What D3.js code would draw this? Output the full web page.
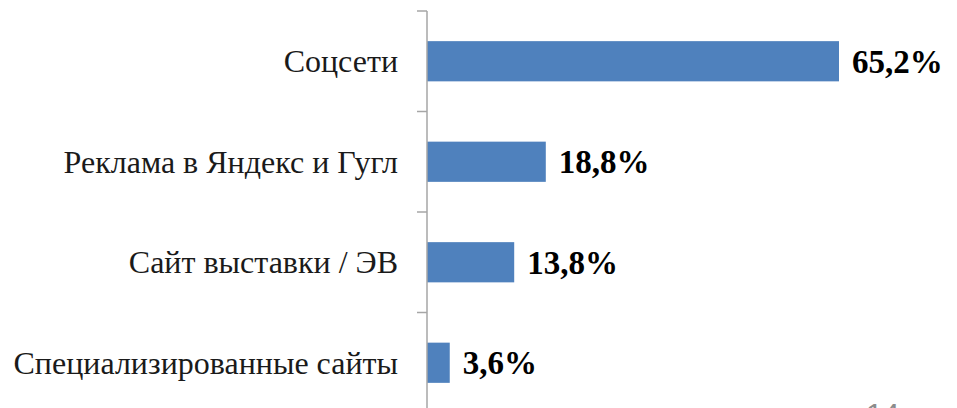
<!DOCTYPE html>
<html>
<head>
<meta charset="utf-8">
<script src="https://cdn.jsdelivr.net/npm/d3@7"></script>
<style>
  body { margin: 0; background: #fff; }
  svg { display: block; }
</style>
</head>
<body>
<svg id="chart" width="957" height="408"></svg>
<script>
// данные
var categories = ["Соцсети", "Реклама в Яндекс и Гугл", "Сайт выставки / ЭВ", "Специализированные сайты"];
var values = [65.2, 18.8, 13.8, 3.6];
var valueLabels = ["65,2%", "18,8%", "13,8%", "3,6%"];

var svg = d3.select("#chart");
var x0 = 427;

var y = d3.scaleBand()
    .domain(categories)
    .range([11, 413])
    .paddingInner(0.6)
    .paddingOuter(0.3);

var x = d3.scaleLinear()
    .domain([0, 65.2])
    .range([x0, 839]);

// бары
svg.selectAll("rect.bar")
    .data(values)
    .enter().append("rect")
    .attr("class", "bar")
    .attr("x", x(0))
    .attr("y", function (d, i) { return y(categories[i]); })
    .attr("width", function (d) { return x(d) - x(0); })
    .attr("height", y.bandwidth())
    .attr("fill", "#4f81bd");

// ось
var axis = d3.axisLeft(y).tickSize(0).tickFormat("");
var g = svg.append("g").attr("transform", "translate(" + x0 + ",0)").call(axis);
g.select(".domain").remove();
g.append("line").attr("x1", 0).attr("x2", 0).attr("y1", 11).attr("y2", 413)
    .attr("stroke", "#a6a6a6").attr("stroke-width", 1.5);

// засечки между категориями
var step = y.step();
var tickYs = d3.range(0, categories.length + 1).map(function (i) { return 11 + i * step; });
g.selectAll("line.tk")
    .data(tickYs)
    .enter().append("line")
    .attr("class", "tk")
    .attr("x1", -10).attr("x2", 0)
    .attr("y1", function (d) { return d; }).attr("y2", function (d) { return d; })
    .attr("stroke", "#a6a6a6").attr("stroke-width", 1.5);

// подписи категорий
svg.selectAll("text.cat")
    .data(categories)
    .enter().append("text")
    .attr("class", "cat")
    .attr("x", 398)
    .attr("y", function (d) { return y(d) + y.bandwidth() / 2; })
    .attr("dy", "0.35em")
    .attr("text-anchor", "end")
    .style("font-family", "'Liberation Serif', 'Times New Roman', serif")
    .style("font-size", "32px")
    .style("fill", "#1a1a1a")
    .text(function (d) { return d; });

// значения
svg.selectAll("text.val")
    .data(values)
    .enter().append("text")
    .attr("class", "val")
    .attr("x", function (d) { return x(d) + 13; })
    .attr("y", function (d, i) { return y(categories[i]) + y.bandwidth() / 2; })
    .attr("dy", "0.35em")
    .style("font-family", "'Liberation Serif', 'Times New Roman', serif")
    .style("font-size", "33px")
    .style("font-weight", "bold")
    .style("fill", "#000")
    .text(function (d, i) { return valueLabels[i]; });

// номер слайда (обрезан)
svg.append("text")
    .attr("x", 866).attr("y", 424)
    .style("font-family", "'Liberation Sans', Arial, sans-serif")
    .style("font-size", "30px")
    .style("fill", "#8c8c8c")
    .text("14");
</script>
</body>
</html>
